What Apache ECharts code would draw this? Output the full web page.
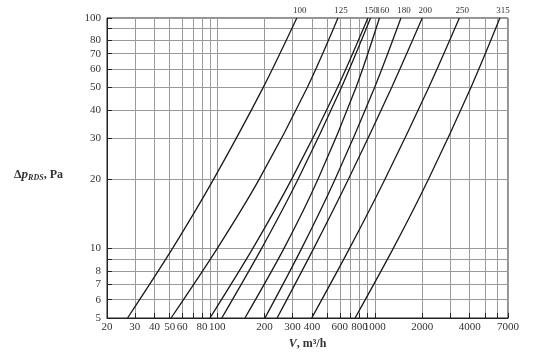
<!DOCTYPE html>
<html>
<head>
<meta charset="utf-8">
<script src="https://cdn.jsdelivr.net/npm/echarts@6/dist/echarts.min.js"></script>
<style>
  html, body { margin: 0; padding: 0; background: #fff; }
  #chart { width: 533px; height: 359px; }
</style>
</head>
<body>
<div id="chart"></div>
<script>
// pressure drop levels where the curves were read (Pa)
const dpLevels = [5, 10, 20, 50, 100];

// air flow V (m3/h) of each curve at those pressure levels
const curve100 = [27, 52, 95, 196, 320];
const curve125 = [51, 100, 185, 373, 584];
const curve150a = [90, 168, 297, 580, 904];
const curve150b = [107, 191, 326, 614, 940];
const curve160 = [150, 265, 436, 760, 1070];
const curve180 = [201, 343, 560, 997, 1465];
const curve200 = [240, 409, 680, 1279, 2000];
const curve250 = [398, 690, 1160, 2199, 3440];
const curve315 = [750, 1307, 2190, 4073, 6220];

const curves = [curve100, curve125, curve150a, curve150b, curve160, curve180, curve200, curve250, curve315];
const curveNames = ['100', '125', '150', '', '160', '180', '200', '250', '315'];

// axis ticks / labels
const xTicks = [20, 30, 40, 50, 60, 70, 80, 90, 100, 200, 300, 400, 500, 600, 700, 800, 900, 1000, 2000, 3000, 4000, 5000, 6000, 7000];
const xLabels = [20, 30, 40, 50, 60, 80, 100, 200, 300, 400, 600, 800, 1000, 2000, 4000, 7000];
const yTicks = [5, 6, 7, 8, 9, 10, 20, 30, 40, 50, 60, 70, 80, 90, 100];
const yLabels = [5, 6, 7, 8, 10, 20, 30, 40, 50, 60, 70, 80, 100];

const font = '"Liberation Serif", "DejaVu Serif", serif';

const myChart = echarts.init(document.getElementById('chart'));

const series = curves.map((c, i) => ({
  name: curveNames[i] || 'x' + i,
  type: 'line',
  smooth: 0.3,
  symbol: 'circle',
  symbolSize: 0,
  lineStyle: { color: '#1a1a1a', width: 1.3 },
  itemStyle: { color: '#1a1a1a' },
  silent: true,
  data: c.map((v, j) => {
    const item = { value: [v, dpLevels[j]] };
    if (j === c.length - 1 && curveNames[i]) {
      item.label = {
        show: true,
        position: 'top',
        distance: 3,
        offset: [3, 0],
        formatter: curveNames[i],
        fontFamily: font,
        fontSize: 9,
        color: '#333'
      };
    }
    return item;
  })
}));

const option = {
  animation: false,
  grid: {
    left: 107, right: 25, top: 18, bottom: 41,
    show: true,
    borderColor: '#222',
    borderWidth: 1
  },
  xAxis: {
    type: 'log',
    logBase: 10,
    min: 20,
    max: 7000,
    name: '{i|V}, m³/h',
    nameLocation: 'middle',
    nameGap: 19,
    nameTextStyle: {
      fontFamily: font, fontSize: 12, color: '#333', fontWeight: 'bold',
      rich: { i: { fontFamily: font, fontSize: 12, fontStyle: 'italic', color: '#333' } }
    },
    axisLine: { lineStyle: { color: '#222', width: 1 } },
    axisTick: { inside: true, length: 5, customValues: xTicks, lineStyle: { color: '#222' } },
    axisLabel: {
      customValues: xLabels, fontFamily: font, fontSize: 11, color: '#333', margin: 4, hideOverlap: false,
      formatter: v => String(v)
    },
    splitLine: { show: true, lineStyle: { color: '#9a9a9a', width: 1 } }
  },
  yAxis: {
    type: 'log',
    logBase: 10,
    min: 5,
    max: 100,
    name: 'Δ{i|p}{sub|RDS}, Pa',
    nameLocation: 'middle',
    nameRotate: 0,
    nameGap: 44,
    nameTextStyle: {
      fontFamily: font, fontSize: 12, color: '#333', fontWeight: 'bold',
      padding: [14, 0, 0, 0],
      rich: {
        i: { fontFamily: font, fontSize: 13, fontStyle: 'italic', color: '#333' },
        sub: { fontFamily: font, fontSize: 8, fontStyle: 'italic', color: '#333', verticalAlign: 'bottom' }
      }
    },
    axisLine: { lineStyle: { color: '#222', width: 1 } },
    axisTick: { inside: true, length: 5, customValues: yTicks, lineStyle: { color: '#222' } },
    axisLabel: {
      customValues: yLabels, fontFamily: font, fontSize: 11, color: '#333', margin: 6,
      formatter: v => String(v)
    },
    splitLine: { show: true, lineStyle: { color: '#9a9a9a', width: 1 } }
  },
  series: series
};

myChart.setOption(option);
window.addEventListener('resize', function () {
  myChart.resize();
});
</script>
</body>
</html>
